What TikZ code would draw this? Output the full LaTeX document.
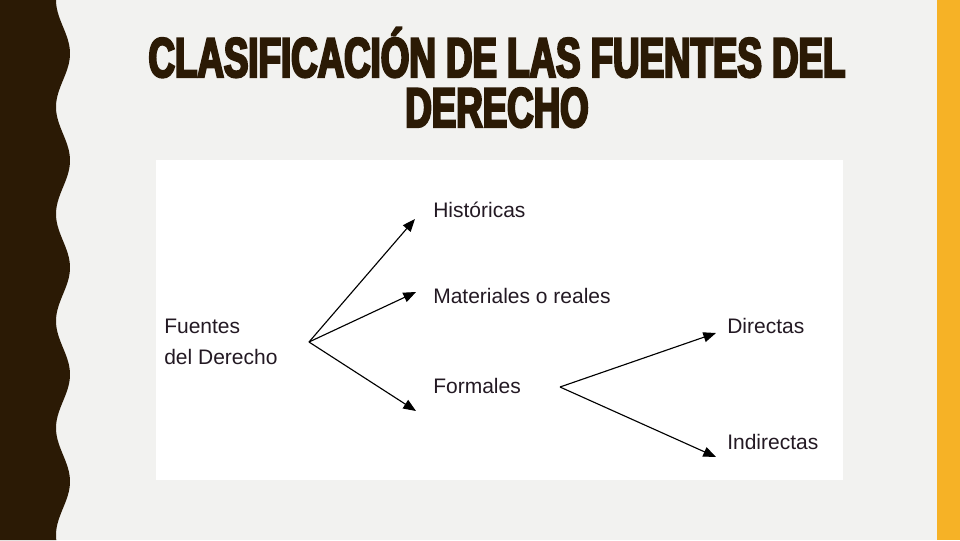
\documentclass[tikz,border=0pt]{standalone}
\usepackage{fontspec}
\setmainfont{Liberation Sans}
\newfontfamily\titlefont{Liberation Sans}[FakeStretch=0.655,FakeBold=4]
\usetikzlibrary{arrows.meta}
\definecolor{darkbrown}{RGB}{43,26,5}
\definecolor{slidegray}{RGB}{242,242,240}
\definecolor{barYellow}{RGB}{246,178,38}
\definecolor{inkText}{RGB}{35,25,35}
\tikzset{
  fuenteArrow/.style={-{Triangle[length=9.5pt,width=7.5pt]}, line width=0.85pt, color=black},
  labelText/.style={anchor=base west, inner sep=0.75pt, font=\fontsize{15.75}{23}\selectfont, text=inkText},
  titleText/.style={anchor=base, inner sep=0pt, text height=31pt, text depth=0pt, font=\titlefont\bfseries\fontsize{42}{37.5}\selectfont, text=darkbrown}
}

\begin{document}
\begin{tikzpicture}[x=0.75pt,y=0.75pt,yscale=-1,xscale=1]
\useasboundingbox (0,0) rectangle (960,540);
%Background
\fill [slidegray] (0,0) rectangle (960,540);
%Wavy strip
\fill [darkbrown] (0,0) -- plot [domain=0:540,samples=180] ({63-7*cos(3.3645*\x)},\x) -- (0,540) -- cycle;
%Right strip
\fill [barYellow] (937,0) rectangle (960,540);
%White panel
\fill [white] (156,160) rectangle (843,480);

% Title Nodes
\draw (497,77) node [titleText] (titleA) {CLASIFICACIÓN DE LAS FUENTES DEL};
\draw (497,127) node [titleText] (titleB) {DERECHO};

% Text Node
\draw (163,333) node [labelText] (fuentes) {Fuentes};
% Text Node
\draw (163,364) node [labelText] (derecho) {del Derecho};
% Text Node
\draw (432,217) node [labelText] (hist) {Históricas};
% Text Node
\draw (432,303) node [labelText] (mater) {Materiales o reales};
% Text Node
\draw (432,393) node [labelText] (formal) {Formales};
% Text Node
\draw (726,333) node [labelText] (direct) {Directas};
% Text Node
\draw (726,449) node [labelText] (indirect) {Indirectas};

%Arrow ends
\coordinate (fuentesPt) at (309,342);
\coordinate (formalPt) at (560,387);
\coordinate (histTip) at (415,219);
\coordinate (materTip) at (416,292);
\coordinate (formalTip) at (416,411);
\coordinate (directTip) at (716,333);
\coordinate (indirectTip) at (716,457);

%Straight Lines
\draw [fuenteArrow] (fuentesPt) -- (histTip);
\draw [fuenteArrow] (fuentesPt) -- (materTip);
\draw [fuenteArrow] (fuentesPt) -- (formalTip);
\draw [fuenteArrow] (formalPt) -- (directTip);
\draw [fuenteArrow] (formalPt) -- (indirectTip);
\end{tikzpicture}
\end{document}
